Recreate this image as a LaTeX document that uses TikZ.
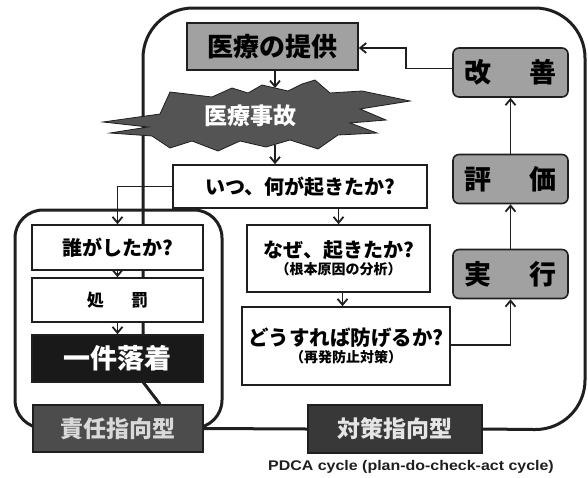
\documentclass[tikz,border=0pt]{standalone}
\usepackage{fontspec}
\newfontfamily\jp{Noto Sans CJK JP}
\newfontfamily\capfont{Liberation Sans}[FakeStretch=1.14]
\usetikzlibrary{arrows.meta}
\newcommand\jfs[1]{\fontsize{#1pt}{#1pt}\selectfont}
\definecolor{ink}{gray}{0.12}
\definecolor{midgray}{gray}{0.63}
\definecolor{explgray}{gray}{0.33}
\definecolor{sekigray}{gray}{0.30}
\definecolor{taigray}{gray}{0.22}
\definecolor{blackbox}{gray}{0.10}
\begin{document}
\begin{tikzpicture}[x=1pt,y=-1pt,
  loopline/.style={line width=3pt, draw=ink},
  box/.style={draw=ink, line width=1.6pt, fill=white, inner sep=0pt, align=center, font=\jp\bfseries},
  graybox/.style={box, fill=midgray, rounded corners=6pt, minimum width=115pt, minimum height=49pt},
  arr/.style={line width=1.8pt, draw=ink, -{Straight Barb[length=6pt,width=10pt]}}
]
\useasboundingbox (0,0) rectangle (588,477);

% loops
\draw[loopline, rounded corners=28pt] (15,210) rectangle (222,428);
\coordinate (o1) at (143,382);
\coordinate (o2) at (143,120);
\coordinate (c1) at (143,8);
\coordinate (c2) at (585,8);
\coordinate (c3) at (585,430);

% boxes
\node[box, fill=midgray, minimum width=171pt, minimum height=47pt] (prov) at (272.5,46.5) {\jfs{26}医療の提供};
\node[box, minimum width=254pt, minimum height=43pt] (itsu) at (300,186.5) {\jfs{20}いつ、何が起きたか?};
\node[box, minimum width=183pt, minimum height=67pt] (naze) at (338.5,258.5) {\jfs{20}なぜ、起きたか?\\[2pt]\jfs{14}（根本原因の分析）};
\node[box, minimum width=208pt, minimum height=78pt] (dou) at (346,346) {\jfs{20.5}どうすれば防げるか?\\[2pt]\jfs{14}（再発防止対策）};
\node[graybox] (kai) at (510.5,72.5) {\jfs{27}改\hspace{1.4em}善};
\node[graybox] (hyo) at (510.5,179) {\jfs{27}評\hspace{1.4em}価};
\node[graybox] (jik) at (510.5,274) {\jfs{27}実\hspace{1.4em}行};

\node[box, minimum width=174pt, minimum height=48pt, fill=taigray, text=white!90!black] (tai) at (395,429) {\jfs{23}対策指向型};
\node[box, minimum width=170pt, minimum height=47pt, fill=sekigray, text=white!85!black] (seki) at (118,428.5) {\jfs{23}責任指向型};

% outer loop
\draw[loopline] ([xshift=42pt]seki.north) -- (o1) -- (o2);
\draw[loopline, rounded corners=50pt] (o2) -- (c1) -- (c2) -- (c3) -- (tai.east);
\draw[loopline] (tai.west) -- (seki.east);

% left boxes (drawn over the loop line)
\node[box, minimum width=171pt, minimum height=45pt] (dare) at (117.5,247.5) {\jfs{20}誰がしたか?};
\node[box, minimum width=171pt, minimum height=44pt] (sho) at (117.5,300) {\jfs{17}処\hspace{1.6em}罰};
\node[box, minimum width=171pt, minimum height=47pt, fill=blackbox, text=white] (ikken) at (117.5,358.5) {\jfs{27}一件落着};

% explosion
\fill[explgray, draw=ink, line width=0.8pt] (103,122) -- (160,114) -- (170,92) -- (212,97) -- (232,88) -- (248,93) -- (262,85) -- (288,91) -- (302,84) -- (315,80) -- (330,93) -- (362,91) -- (410,101) -- (360,109) -- (386,120) -- (350,123) -- (377,133) -- (338,135) -- (318,149) -- (290,140) -- (266,147) -- (240,141) -- (218,151) -- (192,141) -- (170,148) -- (152,136) -- (110,133) -- (148,127) -- cycle;
\node[inner sep=0pt, minimum width=100pt, minimum height=58pt, font=\jp\bfseries, text=white] (acc) at (250,116) {\jfs{23}医療事故};
\coordinate (accn) at (275,88);
\coordinate (accs) at (275,145);

% arrows
\draw[arr] (prov.south -| accn) -- (accn);
\draw[arr] (accs) -- (accs |- itsu.north);
\draw[arr] (itsu.west) -| (dare.north);
\draw[arr] (itsu.south -| naze.north) -- (naze.north);
\draw[arr] ([xshift=4pt]naze.south) -- ([xshift=4pt]naze.south |- dou.north);
\draw[arr] ([yshift=1pt]dou.east) -| (jik.south);
\draw[arr] (jik.north) -- (hyo.south);
\draw[arr] (hyo.north) -- (kai.south);
\draw[arr] ([yshift=4pt]kai.west) -- ++(-46pt,0) |- ([yshift=-1.5pt]prov.east);
\draw[arr] (dare.south) -- (sho.north);
\draw[arr] (sho.south) -- (ikken.north);

% caption
\node[inner sep=0pt, font=\capfont\bfseries, text=ink] (cap) at (411,467) {\fontsize{14pt}{14pt}\selectfont PDCA cycle (plan-do-check-act cycle)};
\end{tikzpicture}
\end{document}
